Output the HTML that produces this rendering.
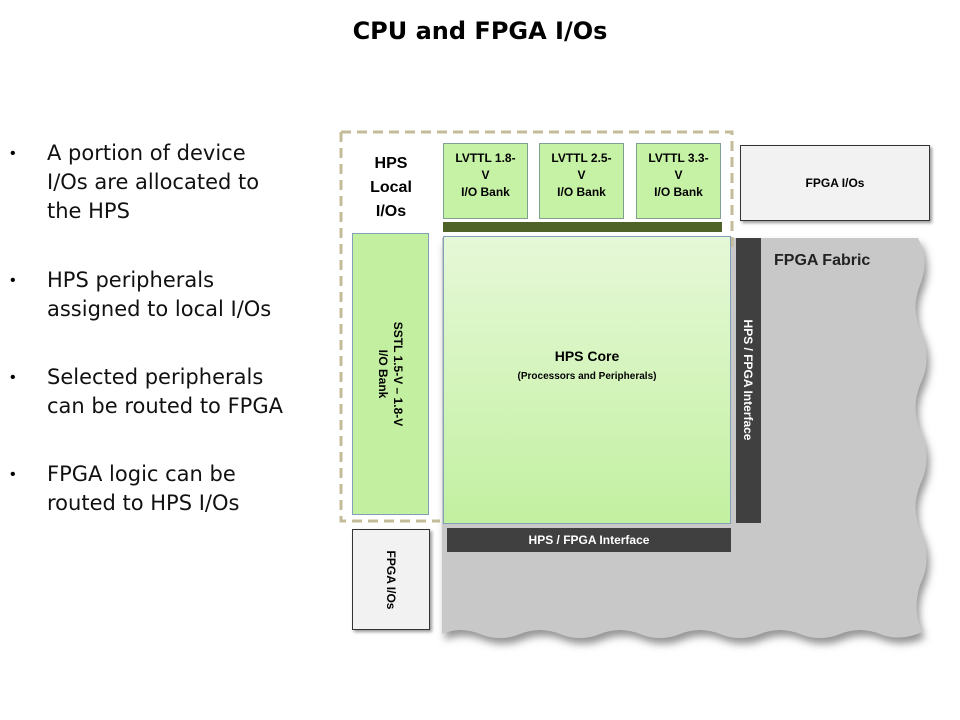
<!DOCTYPE html>
<html><head><style>
body{margin:0;width:960px;height:720px;background:#fff;position:relative;overflow:hidden;font-family:"Liberation Sans",sans-serif}
.a{position:absolute;box-sizing:border-box}
.t{position:absolute;left:0;width:960px;top:17px;text-align:center;font-weight:bold;font-size:24px;font-family:"DejaVu Sans",sans-serif}
.b{position:absolute;left:47px;font-size:21px;line-height:29px;color:#111;font-family:"DejaVu Sans",sans-serif}
.d{position:absolute;left:10px;font-size:16px}
.g{background:linear-gradient(#e6f8d8,#c2f0a0);border:1px solid #7fa0b8}
.lv{background:#c6f2a6;border:1px solid #7fa090;font-weight:bold;font-size:12px;text-align:center;line-height:17px;padding-top:6px}
.dk{background:#404040;color:#fff;font-weight:bold;font-size:12px}
.io{background:#f2f2f2;border:1px solid #333;font-weight:bold;font-size:12px;box-shadow:2px 2px 3px #999}
</style></head><body>
<div class="t">CPU and FPGA I/Os</div>
<div class="d" style="top:145px">•</div><div class="b" style="top:139px">A portion of device<br>I/Os are allocated to<br>the HPS</div>
<div class="d" style="top:272px">•</div><div class="b" style="top:266px">HPS peripherals<br>assigned to local I/Os</div>
<div class="d" style="top:369px">•</div><div class="b" style="top:363px">Selected peripherals<br>can be routed to FPGA</div>
<div class="d" style="top:466px">•</div><div class="b" style="top:460px">FPGA logic can be<br>routed to HPS I/Os</div>

<svg class="a" style="left:0;top:0" width="960" height="720">
<defs><filter id="s"><feDropShadow dx="3" dy="6" stdDeviation="4" flood-color="#666" flood-opacity="0.7"/></filter></defs>
<path filter="url(#s)" fill="#c8c8c8" d="M442 238 L918 238 Q930 260 920 285 Q910 310 922 335 Q932 360 920 385 Q910 410 922 435 Q932 460 920 485 Q910 510 922 535 Q932 560 920 585 Q912 610 922 632 Q900 642 880 634 Q860 626 840 634 Q820 642 800 634 Q780 626 760 634 Q740 642 720 634 Q700 626 680 634 Q660 642 640 634 Q620 626 600 634 Q580 642 560 634 Q540 626 520 634 Q500 642 480 634 Q460 626 442 634 Z"/>
<path d="M341 132 H732 V250 M341 132 V521 H440" fill="none" stroke="#c4bc98" stroke-width="3" stroke-dasharray="10 6"/>
</svg>
<div class="a" style="left:352px;top:152px;width:78px;text-align:center;font-weight:bold;font-size:16px;line-height:24px">HPS<br>Local<br>I/Os</div>
<div class="a lv" style="left:443px;top:143px;width:85px;height:76px">LVTTL 1.8-<br>V<br>I/O Bank</div>
<div class="a lv" style="left:539px;top:143px;width:85px;height:76px">LVTTL 2.5-<br>V<br>I/O Bank</div>
<div class="a lv" style="left:636px;top:143px;width:85px;height:76px">LVTTL 3.3-<br>V<br>I/O Bank</div>
<div class="a" style="left:443px;top:222px;width:279px;height:10px;background:#4f6228"></div>
<div class="a g" style="left:352px;top:233px;width:77px;height:282px;background:#c2f0a0"></div>
<div class="a" style="left:390px;top:374px;width:0;height:0"><div style="position:absolute;transform:translate(-50%,-50%) rotate(90deg);white-space:nowrap;text-align:center;font-weight:bold;font-size:12px;line-height:15px">SSTL 1.5-V – 1.8-V<br>I/O Bank</div></div>
<div class="a g" style="left:443px;top:236px;width:288px;height:288px"></div>
<div class="a" style="left:443px;top:348px;width:288px;text-align:center"><b style="font-size:14px">HPS Core</b><br><b style="font-size:10px">(Processors and Peripherals)</b></div>
<div class="a dk" style="left:736px;top:238px;width:25px;height:285px"></div>
<div class="a" style="left:748px;top:380px"><div style="position:absolute;transform:translate(-50%,-50%) rotate(90deg);white-space:nowrap;color:#fff;font-weight:bold;font-size:12px">HPS / FPGA Interface</div></div>
<div class="a" style="left:774px;top:252px;font-weight:bold;font-size:16px;color:#222">FPGA Fabric</div>
<div class="a dk" style="left:447px;top:528px;width:284px;height:24px;text-align:center;line-height:24px">HPS / FPGA Interface</div>
<div class="a io" style="left:740px;top:145px;width:190px;height:76px;text-align:center;line-height:74px">FPGA I/Os</div>
<div class="a io" style="left:352px;top:529px;width:78px;height:101px"></div>
<div class="a" style="left:391px;top:580px"><div style="position:absolute;transform:translate(-50%,-50%) rotate(90deg);white-space:nowrap;font-weight:bold;font-size:12px">FPGA I/Os</div></div>
</body></html>
